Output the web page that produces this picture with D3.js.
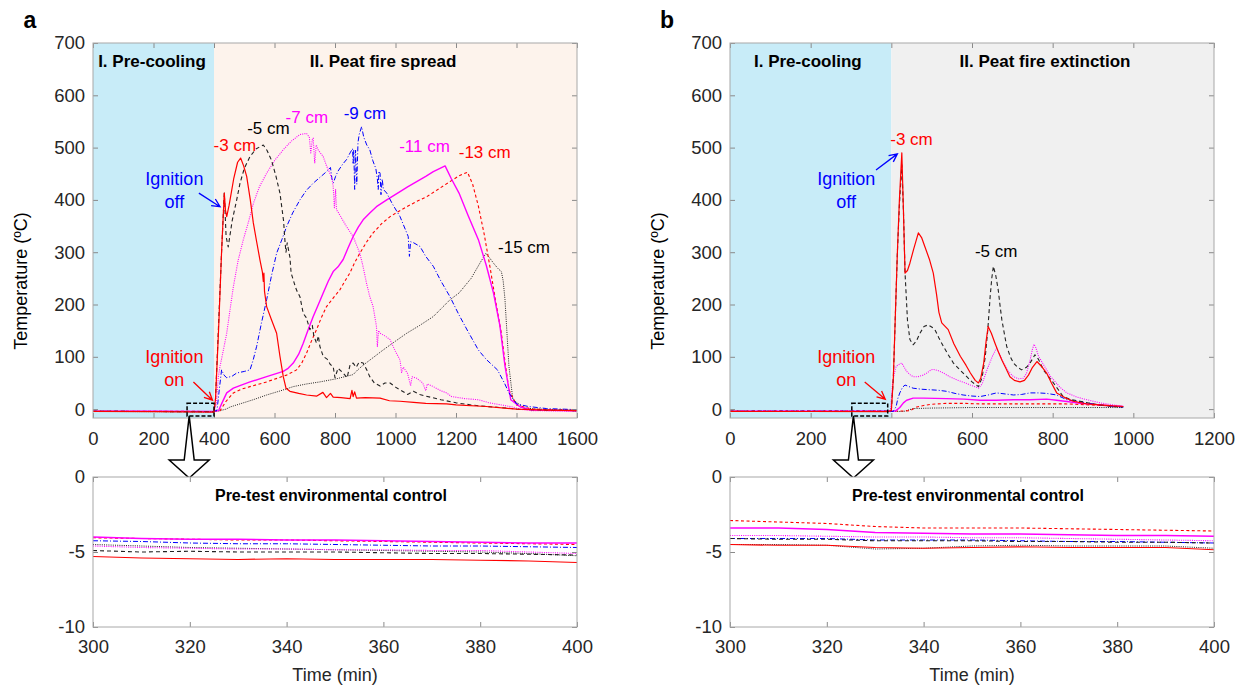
<!DOCTYPE html>
<html>
<head>
<meta charset="utf-8">
<script src="https://cdn.jsdelivr.net/npm/d3@7/dist/d3.min.js"></script>
<style>
body { margin: 0; background: #fff; }
svg { font-family: Arial, "Liberation Sans", sans-serif; }
</style>
</head>
<body>
<div id="chart"></div>
<script>
// ---- panel a : peat fire spread, [time (min), temperature (C)] ----
var a3cm = [[0,-4.5],[200,-5],[400,-5.6],[405,20],[415,150],[425,300],[434,413],[438,380],[442,368],[450,390],[465,440],[478,472],[488,480],[498,465],[508,445],[520,400],[530,356],[541,320],[552,285],[560,262],[563,244],[565,260],[567,225],[574,196],[590,171],[607,145],[618,101],[629,62],[638,40],[651,34],[680,30],[706,27],[740,25],[760,32],[772,22],[785,30],[794,23],[820,22],[850,20],[856,36],[860,24],[865,33],[871,21],[900,22],[949,21],[980,16],[1015,15],[1060,13],[1100,11],[1169,10],[1200,8],[1300,5],[1400,0],[1500,-2],[1600,-3]];
var a5cm = [[0,-4.2],[200,-4.6],[400,-5.2],[405,20],[415,160],[425,300],[434,413],[440,330],[447,310],[460,360],[475,400],[486,432],[500,460],[519,483],[540,498],[563,505],[575,495],[590,476],[605,445],[618,413],[630,360],[635,318],[638,300],[642,318],[651,290],[655,260],[662,247],[670,232],[675,225],[684,215],[695,183],[705,175],[717,152],[725,160],[730,140],[739,126],[745,140],[750,120],[761,101],[775,95],[785,85],[794,81],[800,60],[810,78],[827,69],[840,60],[850,85],[860,88],[870,80],[880,90],[893,88],[905,75],[915,62],[930,50],[949,44],[965,50],[982,50],[1000,42],[1015,37],[1040,28],[1059,34],[1080,28],[1100,25],[1150,18],[1200,12],[1250,8],[1300,5],[1370,2],[1400,0],[1500,-2],[1600,-3]];
var a7cm = [[0,-4],[200,-4.3],[400,-4.8],[408,10],[414,60],[420,82],[430,110],[442,145],[453,190],[464,234],[480,285],[497,324],[515,360],[530,393],[550,425],[574,451],[600,475],[629,496],[655,512],[684,525],[706,527],[715,520],[720,490],[725,515],[728,518],[733,470],[738,505],[745,495],[761,483],[772,465],[783,451],[790,440],[794,426],[798,385],[802,420],[805,381],[812,375],[838,349],[860,330],[882,298],[893,272],[904,241],[915,215],[926,196],[937,158],[940,120],[944,150],[949,145],[965,140],[982,133],[1000,110],[1015,94],[1020,70],[1026,80],[1040,68],[1050,45],[1055,62],[1070,59],[1090,50],[1100,35],[1105,48],[1125,43],[1150,35],[1169,31],[1185,24],[1230,20],[1274,18],[1310,12],[1350,8],[1388,4],[1410,0],[1450,-3],[1600,-4]];
var a9cm = [[0,-4.3],[200,-4.5],[400,-4.7],[410,-2],[418,40],[425,75],[433,65],[442,60],[460,63],[475,69],[500,72],[519,75],[530,95],[541,120],[557,165],[574,209],[590,255],[607,298],[625,325],[640,349],[660,375],[684,400],[705,418],[728,432],[750,443],[772,454],[785,462],[790,440],[795,433],[802,445],[810,455],[825,468],[838,477],[850,490],[858,498],[860,470],[862,495],[865,420],[868,495],[872,430],[876,510],[880,525],[888,540],[895,520],[905,505],[915,496],[925,475],[935,460],[940,440],[943,420],[945,455],[949,451],[952,410],[956,440],[960,420],[971,413],[990,392],[1015,368],[1035,340],[1042,330],[1046,292],[1050,320],[1060,318],[1081,311],[1100,292],[1125,273],[1150,245],[1180,215],[1210,180],[1240,148],[1274,113],[1300,95],[1337,75],[1360,50],[1375,31],[1400,10],[1439,5],[1500,1],[1600,-1]];
var a11cm = [[0,-4],[200,-4.2],[400,-4.4],[415,-3],[425,10],[442,31],[464,40],[490,46],[519,52],[574,62],[629,72],[645,78],[662,88],[680,105],[695,126],[710,150],[728,177],[745,200],[761,222],[778,245],[794,263],[810,272],[827,286],[843,308],[860,330],[877,348],[893,362],[915,375],[937,387],[971,400],[1015,416],[1040,425],[1070,435],[1100,445],[1125,454],[1164,465],[1185,440],[1210,413],[1240,370],[1274,324],[1300,275],[1324,222],[1345,160],[1362,82],[1381,18],[1413,4],[1450,-2],[1600,-3]];
var a13cm = [[0,-4],[200,-4.2],[400,-4.5],[420,-3],[440,15],[464,31],[490,38],[519,43],[574,52],[640,65],[673,75],[690,88],[706,107],[722,130],[739,152],[755,175],[772,196],[795,213],[816,228],[833,245],[849,260],[865,280],[882,298],[905,320],[926,337],[955,355],[982,368],[1010,378],[1037,387],[1070,397],[1103,406],[1140,420],[1180,435],[1210,446],[1238,453],[1255,430],[1274,388],[1293,335],[1312,273],[1330,210],[1350,145],[1362,90],[1375,37],[1400,8],[1450,0],[1600,-2]];
var a15cm = [[0,-4.5],[200,-4.8],[400,-5.2],[420,-3],[440,0],[453,4],[486,10],[530,18],[574,27],[620,35],[662,43],[705,48],[750,52],[805,58],[860,66],[875,75],[893,84],[925,98],[959,113],[1000,130],[1037,145],[1080,160],[1125,177],[1180,209],[1210,222],[1250,250],[1280,280],[1299,298],[1310,290],[1324,279],[1340,268],[1350,263],[1356,245],[1362,209],[1368,150],[1375,82],[1388,18],[1426,2],[1500,-1],[1600,-2]];

// ---- panel b : peat fire extinction ----
var b3cm = [[0,-4.5],[200,-4.6],[390,-4.8],[400,-3],[405,60],[410,180],[415,300],[420,400],[426,490],[430,380],[434,260],[440,265],[446,279],[455,305],[467,337],[475,328],[483,311],[495,285],[504,260],[512,220],[518,185],[525,165],[541,152],[555,125],[571,101],[585,84],[596,69],[608,55],[616,50],[622,60],[629,88],[635,130],[640,158],[648,145],[657,126],[665,110],[674,94],[684,78],[694,62],[705,55],[719,52],[730,55],[740,65],[750,80],[761,91],[772,82],[785,69],[797,50],[810,31],[830,22],[851,15],[884,10],[917,8],[950,6],[975,5]];
var b5cm = [[0,-4.2],[200,-4.3],[390,-4.4],[400,-3],[405,60],[410,180],[415,300],[420,390],[426,467],[430,380],[434,260],[440,170],[446,133],[454,123],[462,130],[471,145],[481,158],[491,161],[500,157],[508,152],[518,136],[529,120],[541,104],[554,88],[570,75],[587,62],[600,52],[616,43],[625,60],[633,101],[639,150],[645,215],[649,250],[653,273],[659,255],[665,228],[670,195],[674,171],[680,145],[686,120],[695,100],[703,88],[713,80],[723,75],[735,80],[744,88],[750,96],[756,104],[765,95],[777,75],[790,62],[802,50],[815,36],[826,24],[846,18],[868,15],[900,10],[917,8],[950,5],[975,4]];
var b7cm = [[0,-4],[200,-4],[398,-4.1],[403,50],[408,70],[412,82],[420,86],[426,88],[432,80],[438,72],[446,66],[454,62],[466,62],[479,65],[490,70],[498,75],[504,76],[515,74],[529,69],[545,62],[562,56],[580,51],[596,46],[610,42],[616,40],[625,48],[637,75],[650,100],[661,117],[668,105],[678,88],[690,72],[703,62],[715,58],[727,59],[735,68],[744,94],[750,115],[754,124],[758,118],[765,101],[775,88],[785,75],[795,62],[802,56],[818,42],[835,31],[860,23],[884,18],[917,12],[950,8],[975,5]];
var b9cm = [[0,-4.3],[200,-4.3],[405,-4.3],[412,5],[416,20],[421,31],[428,42],[434,46],[444,43],[454,40],[475,38],[496,37],[517,36],[537,34],[558,30],[578,27],[600,25],[620,24],[640,27],[661,31],[682,29],[703,27],[723,28],[744,31],[765,31],[785,30],[810,27],[835,18],[860,15],[884,12],[917,8],[950,5],[975,4]];
var b11cm = [[0,-3.8],[200,-3.8],[410,-3.9],[421,3],[430,12],[438,17],[454,21],[480,21],[537,20],[580,19],[620,17],[660,17],[703,18],[744,18],[785,19],[810,17],[840,14],[868,11],[917,8],[950,6],[975,5]];
var b13cm = [[0,-3.5],[200,-3.4],[430,-3.5],[446,-3],[463,4],[480,7],[496,9],[537,11],[580,11],[620,10],[703,10],[785,10],[830,10],[868,9],[917,7],[950,6],[975,5]];
var b15cm = [[0,-4.5],[200,-4.6],[430,-4.6],[454,1],[500,2],[600,3],[700,3],[800,3],[900,3],[975,3]];

// ---- pre-test insets, temperature every 10 min from 300 to 400 min ----
var insetTimes = [300, 310, 320, 330, 340, 350, 360, 370, 380, 390, 400];
var preA3 = [-5.3, -5.4, -5.45, -5.5, -5.45, -5.5, -5.5, -5.5, -5.55, -5.6, -5.7];
var preA5 = [-4.9, -5.0, -4.95, -5.0, -5.0, -5.0, -5.05, -5.1, -5.1, -5.15, -5.2];
var preA7 = [-4.6, -4.7, -4.75, -4.8, -4.8, -4.85, -4.85, -4.9, -4.9, -5.0, -5.1];
var preA9 = [-4.25, -4.3, -4.4, -4.45, -4.45, -4.5, -4.55, -4.6, -4.6, -4.65, -4.7];
var preA11 = [-4.0, -4.1, -4.15, -4.15, -4.2, -4.2, -4.25, -4.3, -4.35, -4.4, -4.4];
var preA13 = [-4.05, -4.1, -4.15, -4.2, -4.2, -4.25, -4.3, -4.35, -4.4, -4.45, -4.5];
var preA15 = [-4.5, -4.6, -4.7, -4.75, -4.8, -4.85, -4.9, -4.95, -5.0, -5.1, -5.25];

var preB3 = [-4.5, -4.55, -4.55, -4.7, -4.75, -4.7, -4.65, -4.7, -4.7, -4.7, -4.85];
var preB5 = [-4.1, -4.15, -4.15, -4.25, -4.25, -4.25, -4.3, -4.3, -4.35, -4.35, -4.4];
var preB7 = [-3.9, -3.9, -3.95, -4.0, -4.0, -4.05, -4.05, -4.1, -4.15, -4.2, -4.25];
var preB9 = [-4.1, -4.1, -4.1, -4.2, -4.2, -4.2, -4.25, -4.3, -4.3, -4.35, -4.4];
var preB11 = [-3.4, -3.4, -3.5, -3.7, -3.75, -3.8, -3.8, -3.85, -3.9, -3.9, -3.95];
var preB13 = [-2.9, -3.0, -3.1, -3.3, -3.4, -3.4, -3.4, -3.45, -3.5, -3.55, -3.6];
var preB15 = [-4.5, -4.5, -4.55, -4.8, -4.75, -4.6, -4.55, -4.6, -4.6, -4.6, -4.75];

var mainXTicksA = [0, 200, 400, 600, 800, 1000, 1200, 1400, 1600];
var mainXTicksB = [0, 200, 400, 600, 800, 1000, 1200];
var mainYTicks = [0, 100, 200, 300, 400, 500, 600, 700];
var insetXTicks = [300, 320, 340, 360, 380, 400];
var insetYTicks = [-10, -5, 0];

// line style per depth (MATLAB-like)
var depthStyle = {
	"-3":  { color: "#ff0000", dash: null,       width: 1.2 },
	"-5":  { color: "#222222", dash: "4,3",      width: 1.1 },
	"-7":  { color: "#ff00ff", dash: "1,1.2",    width: 1.1 },
	"-9":  { color: "#0000ff", dash: "5,2,1,2",  width: 1.0 },
	"-11": { color: "#ff00ff", dash: null,       width: 1.4 },
	"-13": { color: "#ff0000", dash: "3,2.5",    width: 1.1 },
	"-15": { color: "#222222", dash: "1,1.2",    width: 1.0 }
};

var svgWidth = 1243;
var svgHeight = 685;
var plotWidth = 484;
var mainTop = 43, mainHeight = 375;
var insetTop = 477, insetHeight = 150;
var frameColor = "#a8a8a8";
var tickColor = "#8a8a8a";
var textColor = "#262626";

var svg = d3.select("#chart")
	.append("svg")
	.attr("width", svgWidth)
	.attr("height", svgHeight);

// plain numbers, hyphen minus, no thousands comma
var plainNum = d => String(d);

function styleAxis(g) {
	g.select(".domain").remove();
	g.selectAll(".tick line").attr("stroke", tickColor);
	g.selectAll(".tick text").attr("fill", textColor).attr("font-size", 18.5);
}

// frame + inward ticks on all four sides
function drawFrame(x, y, xTicks, yTicks, left, top, h, xPad) {
	svg.append("g").attr("transform", `translate(0, ${top + h})`)
		.call(d3.axisBottom(x).tickValues(xTicks).tickSize(-5).tickSizeOuter(0).tickPadding(xPad).tickFormat(plainNum))
		.call(styleAxis);
	svg.append("g").attr("transform", `translate(0, ${top})`)
		.call(d3.axisTop(x).tickValues(xTicks).tickSize(-5).tickSizeOuter(0).tickFormat(""))
		.call(styleAxis);
	svg.append("g").attr("transform", `translate(${left}, 0)`)
		.call(d3.axisLeft(y).tickValues(yTicks).tickSize(-5).tickSizeOuter(0).tickPadding(8).tickFormat(plainNum))
		.call(styleAxis);
	svg.append("g").attr("transform", `translate(${left + plotWidth}, 0)`)
		.call(d3.axisRight(y).tickValues(yTicks).tickSize(-5).tickSizeOuter(0).tickFormat(""))
		.call(styleAxis);
	svg.append("rect")
		.attr("x", left).attr("y", top)
		.attr("width", plotWidth).attr("height", h)
		.attr("fill", "none")
		.attr("stroke", frameColor)
		.attr("stroke-width", 1);
}

function drawSeries(g, x, y, key, pts) {
	var st = depthStyle[key];
	var line = d3.line().x(d => x(d[0])).y(d => y(d[1]));
	g.append("path")
		.datum(pts)
		.attr("d", line)
		.attr("fill", "none")
		.attr("stroke", st.color)
		.attr("stroke-width", st.width)
		.attr("stroke-dasharray", st.dash)
		.attr("stroke-linejoin", "round");
}

function label(x, y, txt, color, size, weight) {
	return svg.append("text")
		.attr("x", x).attr("y", y)
		.attr("text-anchor", "middle")
		.attr("dominant-baseline", "central")
		.attr("fill", color)
		.attr("font-size", size)
		.attr("font-weight", weight || "normal")
		.text(txt);
}

function arrowLine(x1, y1, x2, y2, color) {
	var ang = Math.atan2(y2 - y1, x2 - x1);
	var len = 9, spread = 0.45;
	var p = `M${x1},${y1}L${x2},${y2}` +
		`M${x2 - len * Math.cos(ang - spread)},${y2 - len * Math.sin(ang - spread)}L${x2},${y2}` +
		`L${x2 - len * Math.cos(ang + spread)},${y2 - len * Math.sin(ang + spread)}`;
	svg.append("path").attr("d", p).attr("fill", "none").attr("stroke", color).attr("stroke-width", 1.3);
}

function drawPanel(cfg) {
	var left = cfg.left;
	var x = d3.scaleLinear().domain([0, cfg.xMax]).range([left, left + plotWidth]);
	var y = d3.scaleLinear().domain([-17, 700]).range([mainTop + mainHeight, mainTop]);

	// phase backgrounds
	svg.append("rect")
		.attr("x", x(0)).attr("y", mainTop)
		.attr("width", x(400) - x(0)).attr("height", mainHeight)
		.attr("fill", "#c8ecf8");
	svg.append("rect")
		.attr("x", x(400)).attr("y", mainTop)
		.attr("width", x(cfg.xMax) - x(400)).attr("height", mainHeight)
		.attr("fill", cfg.phaseColor);

	var clipId = "clip" + cfg.name;
	svg.append("clipPath").attr("id", clipId)
		.append("rect").attr("x", left).attr("y", mainTop).attr("width", plotWidth).attr("height", mainHeight);
	var lines = svg.append("g").attr("clip-path", `url(#${clipId})`);

	// draw deepest first so the shallow ones stay on top
	cfg.series.slice().reverse().forEach(s => drawSeries(lines, x, y, s[0], s[1]));

	drawFrame(x, y, cfg.xTicks, mainYTicks, left, mainTop, mainHeight, 14);

	// phase titles
	label(x(cfg.phase1X), y(665), "I. Pre-cooling", "#000", 17, "bold");
	label(x(cfg.phase2X), y(665), cfg.phase2, "#000", 17, "bold");

	// depth labels
	cfg.depthLabels.forEach(d => label(x(d[1]), y(d[2]), d[0] + " cm", depthStyle[d[0]].color === "#222222" ? "#000" : depthStyle[d[0]].color, 17));

	// ignition notes
	label(x(cfg.ignX), y(440), "Ignition", "#0000ff", 18);
	label(x(cfg.ignX), y(396), "off", "#0000ff", 18);
	label(x(cfg.ignX), y(100), "Ignition", "#ff0000", 18);
	label(x(cfg.ignX), y(56), "on", "#ff0000", 18);
	arrowLine(x(cfg.offArrow[0]), y(cfg.offArrow[1]), x(cfg.offArrow[2]), y(cfg.offArrow[3]), "#0000ff");
	arrowLine(x(cfg.onArrow[0]), y(cfg.onArrow[1]), x(cfg.onArrow[2]), y(cfg.onArrow[3]), "#ff0000");

	// zoom box around the pre-test window
	svg.append("rect")
		.attr("x", x(cfg.box[0])).attr("y", y(11))
		.attr("width", x(cfg.box[1]) - x(cfg.box[0]))
		.attr("height", y(-13) - y(11))
		.attr("fill", "none")
		.attr("stroke", "#000")
		.attr("stroke-width", 1.5)
		.attr("stroke-dasharray", "4,2");

	// hollow arrow down to the inset
	var x0 = x(cfg.arrowT), top = y(-13);
	var pts = [[x0, top], [x0 + 5, 460], [x0 + 20, 460], [x0, insetTop + 1], [x0 - 20, 460], [x0 - 5, 460]];
	svg.append("polygon")
		.attr("points", pts.map(p => p.join(",")).join(" "))
		.attr("fill", "#fff")
		.attr("stroke", "#000")
		.attr("stroke-width", 1.5)
		.attr("stroke-linejoin", "miter");

	// y label and panel letter
	svg.append("text")
		.attr("transform", `translate(${left - 72}, 281) rotate(-90)`)
		.attr("text-anchor", "middle")
		.attr("dominant-baseline", "central")
		.attr("fill", "#000")
		.attr("font-size", 18)
		.text("Temperature  (ºC)");
	label(left - 63, 20, cfg.letter, "#000", 23, "bold");
}

function drawInset(cfg) {
	var left = cfg.left;
	var x = d3.scaleLinear().domain([300, 400]).range([left, left + plotWidth]);
	var y = d3.scaleLinear().domain([-10, 0]).range([insetTop + insetHeight, insetTop]);

	svg.append("rect")
		.attr("x", left).attr("y", insetTop)
		.attr("width", plotWidth).attr("height", insetHeight)
		.attr("fill", "#fff");

	var g = svg.append("g");
	cfg.series.slice().reverse().forEach(s => {
		var pts = insetTimes.map((t, i) => [t, s[1][i]]);
		drawSeries(g, x, y, s[0], pts);
	});

	drawFrame(x, y, insetXTicks, insetYTicks, left, insetTop, insetHeight, 13);

	label(left + plotWidth / 2 - 4, 495, "Pre-test environmental control", "#000", 16, "bold");
	label(left + plotWidth / 2, 675, "Time (min)", textColor, 18);
}

var panels = [
	{
		name: "a", letter: "a", left: 93, xMax: 1600, xTicks: mainXTicksA,
		phaseColor: "#fdf3ec", phase1X: 195, phase2X: 959, phase2: "II. Peat fire spread",
		series: [["-3", a3cm], ["-5", a5cm], ["-7", a7cm], ["-9", a9cm], ["-11", a11cm], ["-13", a13cm], ["-15", a15cm]],
		depthLabels: [["-3", 469, 504], ["-5", 580, 536], ["-7", 707, 558], ["-9", 899, 566], ["-11", 1096, 502], ["-13", 1295, 490], ["-15", 1425, 309]],
		ignX: 269, offArrow: [350, 413, 420, 387], onArrow: [332, 52, 395, 17],
		box: [311, 400], arrowT: 318
	},
	{
		name: "b", letter: "b", left: 730, xMax: 1200, xTicks: mainXTicksB,
		phaseColor: "#f0f0f0", phase1X: 193, phase2X: 781, phase2: "II. Peat fire extinction",
		series: [["-3", b3cm], ["-5", b5cm], ["-7", b7cm], ["-9", b9cm], ["-11", b11cm], ["-13", b13cm], ["-15", b15cm]],
		depthLabels: [["-3", 450, 515], ["-5", 660, 301]],
		ignX: 288, offArrow: [362, 457, 415, 488], onArrow: [334, 52, 385, 19],
		box: [302, 391], arrowT: 306
	}
];

panels.forEach(drawPanel);

drawInset({ left: 93, series: [["-3", preA3], ["-5", preA5], ["-7", preA7], ["-9", preA9], ["-11", preA11], ["-13", preA13], ["-15", preA15]] });
drawInset({ left: 730, series: [["-3", preB3], ["-5", preB5], ["-7", preB7], ["-9", preB9], ["-11", preB11], ["-13", preB13], ["-15", preB15]] });
</script>
</body>
</html>
